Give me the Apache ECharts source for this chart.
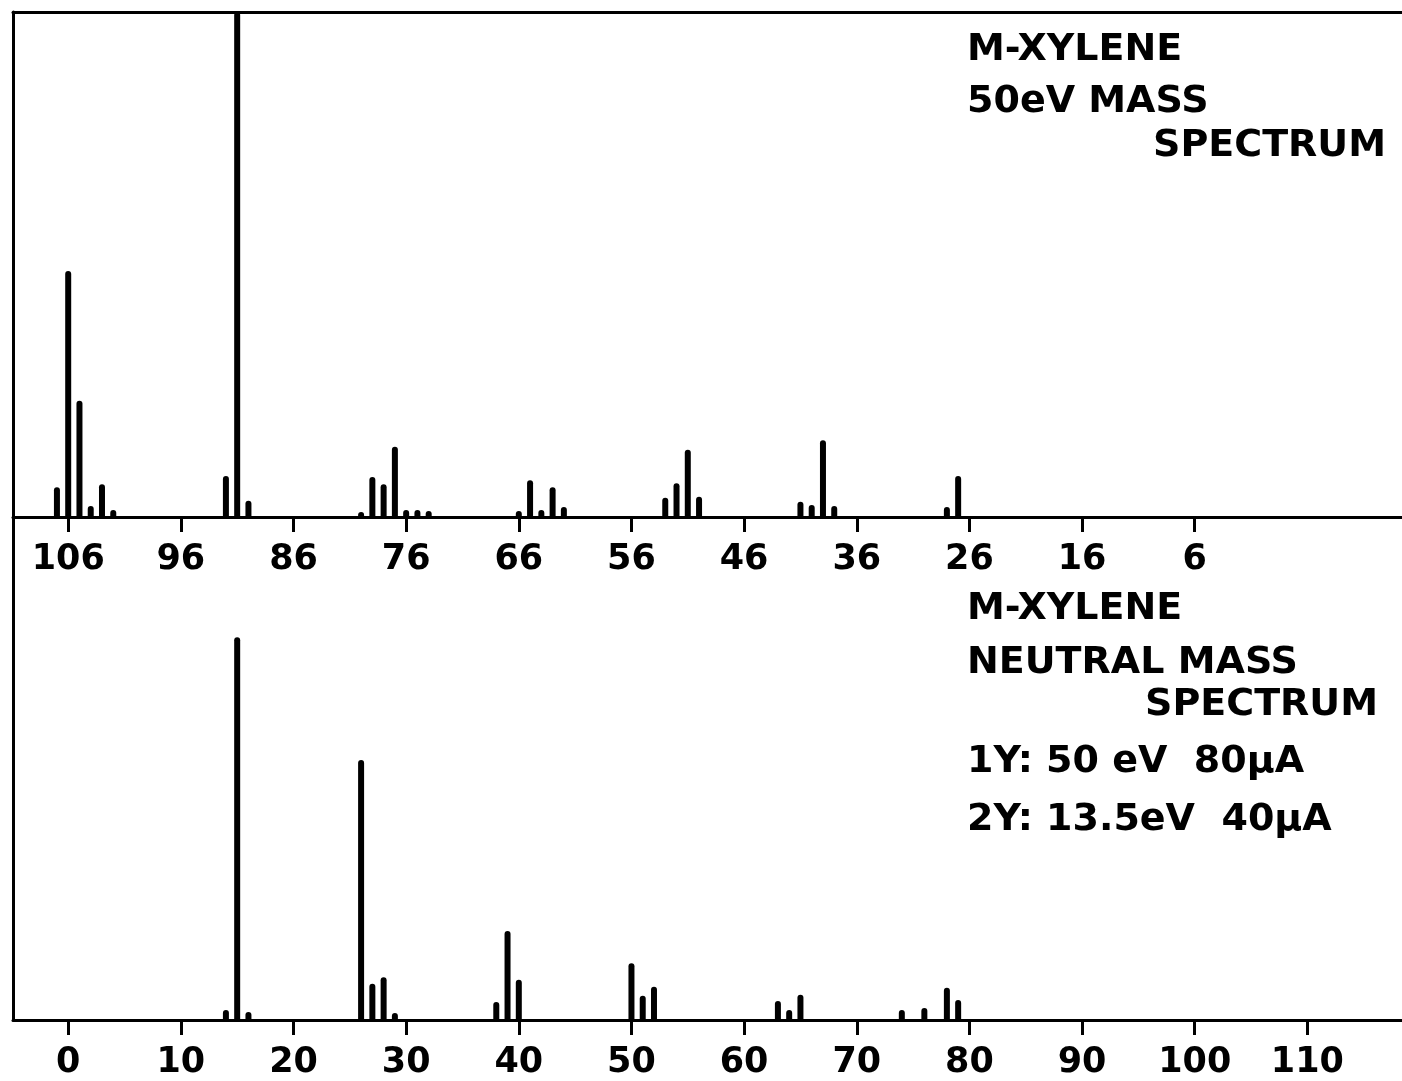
<!DOCTYPE html>
<html>
<head>
<meta charset="utf-8">
<script src="https://cdn.jsdelivr.net/npm/echarts@6/dist/echarts.min.js"></script>
<style>
  html, body { margin: 0; padding: 0; background: #fff; }
  #chart { width: 1402px; height: 1081px; }
</style>
</head>
<body>
<div id="chart"></div>
<script>
// M-xylene, 50 eV ion mass spectrum: m/z and peak height (% of panel height)
const ionMasses  = [107, 106, 105, 104, 103, 102, 92, 91, 90, 80, 79, 78, 77, 76, 75, 74, 66, 65, 64, 63, 62, 53, 52, 51, 50, 41, 40, 39, 38, 28, 27];
const ionHeights = [5.9, 48.7, 23.0, 2.2, 6.5, 1.4, 8.1, 100, 3.2, 1.0, 7.9, 6.5, 13.9, 1.4, 1.4, 1.2, 1.2, 7.3, 1.4, 5.9, 2.0, 3.8, 6.7, 13.3, 4.0, 3.0, 2.4, 15.2, 2.2, 2.0, 8.1];

// M-xylene, neutral mass spectrum: mass and peak height (% of panel height)
const neutralMasses  = [14, 15, 16, 26, 27, 28, 29, 38, 39, 40, 50, 51, 52, 63, 64, 65, 74, 76, 78, 79];
const neutralHeights = [2.0, 76.1, 1.6, 51.7, 7.2, 8.5, 1.4, 3.6, 17.7, 8.0, 11.3, 4.8, 6.6, 3.8, 2.0, 5.0, 2.0, 2.4, 6.4, 4.0];

// Axis tick labels
const ionTicks     = [106, 96, 86, 76, 66, 56, 46, 36, 26, 16, 6];
const neutralTicks = [0, 10, 20, 30, 40, 50, 60, 70, 80, 90, 100, 110];

const INK = '#000';
const FONT = 'DejaVu Sans';

const labelStyle = {
  color: INK,
  fontFamily: FONT,
  fontWeight: 'bold',
  fontSize: 35,
  margin: 25
};

function massAxis(gridIndex, ticks, min, max, inverse) {
  return {
    type: 'value',
    gridIndex: gridIndex,
    position: 'bottom',
    inverse: inverse,
    min: min,
    max: max,
    axisLine: { show: true, onZero: false, lineStyle: { color: INK, width: 3 } },
    axisTick: { show: true, inside: false, length: 15, customValues: ticks, lineStyle: { color: INK, width: 3 } },
    axisLabel: Object.assign({ show: true, customValues: ticks }, labelStyle),
    splitLine: { show: false }
  };
}

function heightAxis(gridIndex) {
  return {
    type: 'value',
    gridIndex: gridIndex,
    min: 0,
    max: 100,
    axisLine: { show: true, onZero: false, lineStyle: { color: INK, width: 3 } },
    axisTick: { show: false },
    axisLabel: { show: false },
    splitLine: { show: false }
  };
}

function peaks(xIndex, yIndex, masses, heights) {
  return {
    type: 'bar',
    xAxisIndex: xIndex,
    yAxisIndex: yIndex,
    barWidth: 6,
    itemStyle: { color: INK, borderRadius: [3, 3, 0, 0] },
    data: masses.map((m, i) => [m, heights[i]]),
    clip: true
  };
}

function note(text, x, y, align) {
  return {
    type: 'text',
    left: align === 'right' ? null : x,
    right: align === 'right' ? 1402 - x : null,
    top: y,
    style: {
      text: text,
      fill: INK,
      font: 'bold 38px "' + FONT + '"'
    }
  };
}

const chart = echarts.init(document.getElementById('chart'), null, { renderer: 'canvas' });

chart.setOption({
  animation: false,
  backgroundColor: '#fff',
  grid: [
    { left: 13, top: 12, width: 1389, height: 505 },
    { left: 13, top: 517, width: 1389, height: 503 }
  ],
  xAxis: [
    massAxis(0, ionTicks, -12.4, 110.9, true),
    massAxis(1, neutralTicks, -4.9, 118.4, false),
    {
      // upper frame of the ion spectrum panel
      type: 'value', gridIndex: 0, position: 'top', min: 0, max: 1,
      axisLine: { show: true, onZero: false, lineStyle: { color: INK, width: 3 } },
      axisTick: { show: false }, axisLabel: { show: false }, splitLine: { show: false }
    }
  ],
  yAxis: [heightAxis(0), heightAxis(1)],
  series: [
    peaks(0, 0, ionMasses, ionHeights),
    peaks(1, 1, neutralMasses, neutralHeights)
  ],
  graphic: [
    note('M-XYLENE', 967, 31),
    note('50eV MASS', 967, 83),
    note('SPECTRUM', 1386, 127, 'right'),
    note('M-XYLENE', 967, 590),
    note('NEUTRAL MASS', 967, 644),
    note('SPECTRUM', 1378, 686, 'right'),
    note('1Y: 50 eV  80\u03bcA', 967, 743),
    note('2Y: 13.5eV  40\u03bcA', 967, 801)
  ]
});
</script>
</body>
</html>
